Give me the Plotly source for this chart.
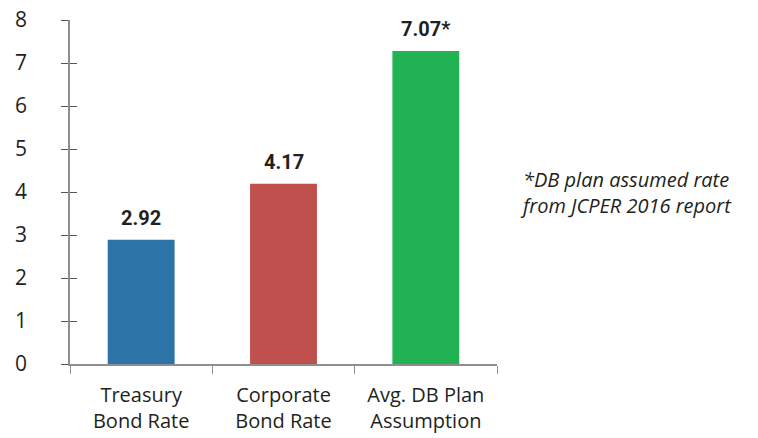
import plotly.graph_objects as go

categories = ["Treasury<br>Bond Rate", "Corporate<br>Bond Rate", "Avg. DB Plan<br>Assumption"]
bar_heights = [2.89, 4.19, 7.28]
bar_labels = ["2.92", "4.17", "7.07*"]
bar_colors = ["#2C74A7", "#C0504E", "#21B254"]
y_ticks = [0, 1, 2, 3, 4, 5, 6, 7, 8]
footnote = "*DB plan assumed rate<br>from JCPER 2016 report"

TEXT = "#231F20"
AXIS = "#8F8F8F"

fig = go.Figure()
fig.add_trace(go.Bar(
    x=categories, y=bar_heights, marker=dict(color=bar_colors, line=dict(width=0)),
    width=0.47, hoverinfo="skip", showlegend=False,
))
# invisible trace for secondary y axis (inside tick marks)
fig.add_trace(go.Scatter(x=categories, y=bar_heights, yaxis="y2", mode="markers",
                         marker=dict(opacity=0), hoverinfo="skip", showlegend=False))

for c, h, lab in zip(categories, bar_heights, bar_labels):
    fig.add_annotation(x=c, y=h, text=f"<b>{lab}</b>", showarrow=False,
                       yanchor="bottom", yshift=8,
                       font=dict(family="Roboto", size=20, color=TEXT))

fig.add_annotation(x=1.05, xref="paper", xanchor="left", y=0.5, yref="paper",
                   text=f"<i>{footnote}</i>", showarrow=False, align="left",
                   font=dict(family="Open Sans", size=20, color=TEXT))

fig.update_layout(
    width=758, height=438,
    margin=dict(l=70, r=261, t=20, b=74),
    paper_bgcolor="white", plot_bgcolor="white",
    xaxis=dict(
        type="category", tickson="boundaries", ticks="outside", ticklen=8,
        tickcolor=AXIS, tickwidth=1.2, showline=True, linecolor=AXIS, linewidth=1.5,
        showgrid=False, tickfont=dict(family="Open Sans", size=20, color=TEXT),
        range=[-0.5, 2.5], ticklabelstandoff=12, automargin=False,
    ),
    yaxis=dict(
        range=[0, 8], tickvals=y_ticks, ticks="outside", ticklen=7, tickcolor="#555555",
        tickwidth=1, showline=True, linecolor=AXIS, linewidth=1.5, showgrid=False,
        zeroline=False, tickfont=dict(family="Open Sans", size=21, color=TEXT),
        ticklabelstandoff=30, automargin=False,
    ),
    yaxis2=dict(
        range=[0, 8], tickvals=y_ticks, ticks="inside", ticklen=7, tickcolor="#555555",
        tickwidth=1, showticklabels=False, overlaying="y", side="left",
        showgrid=False, zeroline=False, showline=False,
    ),
)

fig.write_html("out.html")
